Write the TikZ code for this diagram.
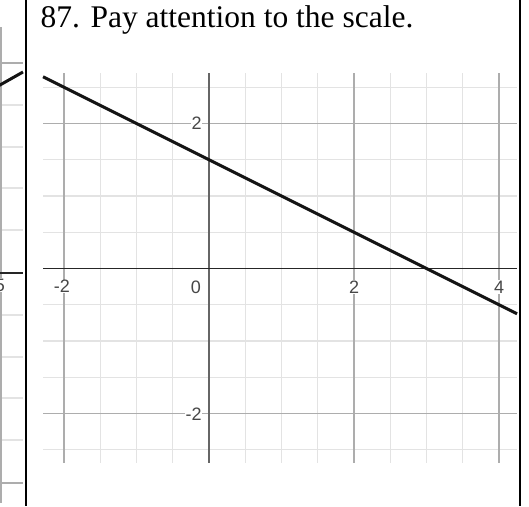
\documentclass[tikz,border=0pt]{standalone}
\usepackage{fontspec}
\setmainfont{Liberation Serif}
\newfontfamily\axisfont{Liberation Sans}
\begin{document}
\begin{tikzpicture}[x=1pt,y=-1pt,
  minorgrid/.style={draw=black!11,line width=1.3pt},
  majorgrid/.style={draw=black!32,line width=1.6pt},
  xaxisline/.style={draw=black!85,line width=1.8pt},
  yaxisline/.style={draw=black!60,line width=2.6pt},
  plotline/.style={draw=black!92,line width=3pt},
  border/.style={draw=black,line width=2.4pt},
  ticklabel/.style={font=\axisfont\fontsize{18}{18}\selectfont,text=black!72,fill=white,inner sep=0.6pt},
  titletext/.style={font=\fontsize{31.5}{31.5}\selectfont,inner sep=0pt,anchor=base west}]
\useasboundingbox (0,0) rectangle (529,506);

% ---------- left partial panel ----------
\begin{scope}
\clip (0,0) rectangle (25,506);
\foreach \yy in {105,147,188,230,315,357,398,440}
  \draw[minorgrid] (0,\yy) -- (23,\yy);
\draw[majorgrid] (1,27) -- (1,503);
\draw[majorgrid] (0,63) -- (23,63);
\draw[majorgrid] (0,483) -- (23,483);
\draw[xaxisline] (0,273) -- (23,273);
\node[ticklabel] (lfive) at (0,285) {5};
\coordinate (la) at (-10,90.65);
\coordinate (lb) at (23,72);
\draw[plotline] (la) -- (lb);
\end{scope}

% ---------- main graph ----------
\begin{scope}
\clip (43,73) rectangle (517,463);
\foreach \k in {-3,-2,-1,1,2,3,5,6,7}
  \draw[minorgrid] ({209+\k*36.25},73) -- ({209+\k*36.25},463);
\foreach \k in {-5,-3,-2,-1,1,2,3,5}
  \draw[minorgrid] (43,{268.5+\k*36.25}) -- (517,{268.5+\k*36.25});
\foreach \k in {-4,4,8}
  \draw[majorgrid] ({209+\k*36.25},73) -- ({209+\k*36.25},463);
\foreach \k in {-4,4}
  \draw[majorgrid] (43,{268.5+\k*36.25}) -- (517,{268.5+\k*36.25});
\draw[yaxisline] (209,73) -- (209,463);
\draw[xaxisline] (43,268.5) -- (517,268.5);
\end{scope}

% tick labels
\node[ticklabel] (xm2) at (62,286.5) {-2};
\node[ticklabel] (xzero) at (196,287) {0};
\node[ticklabel] (xtwo) at (354,287) {2};
\node[ticklabel] (xfour) at (499,287) {4};
\node[ticklabel,anchor=east] (ytwo) at (202.5,123.5) {2};
\node[ticklabel,anchor=east] (ym2) at (202.5,414.5) {-2};

% plotted line y = -x/2 + 3/2
\coordinate (pa) at (43,76.75);
\coordinate (pb) at (517,313.75);
\draw[plotline] (pa) -- (pb);

% borders
\draw[border] (26,0) -- (26,506);
\draw[border] (520,0) -- (520,506);

% title
\node[titletext] (title) at (40.5,27.5) {87. Pay attention to the scale.};
\end{tikzpicture}
\end{document}
